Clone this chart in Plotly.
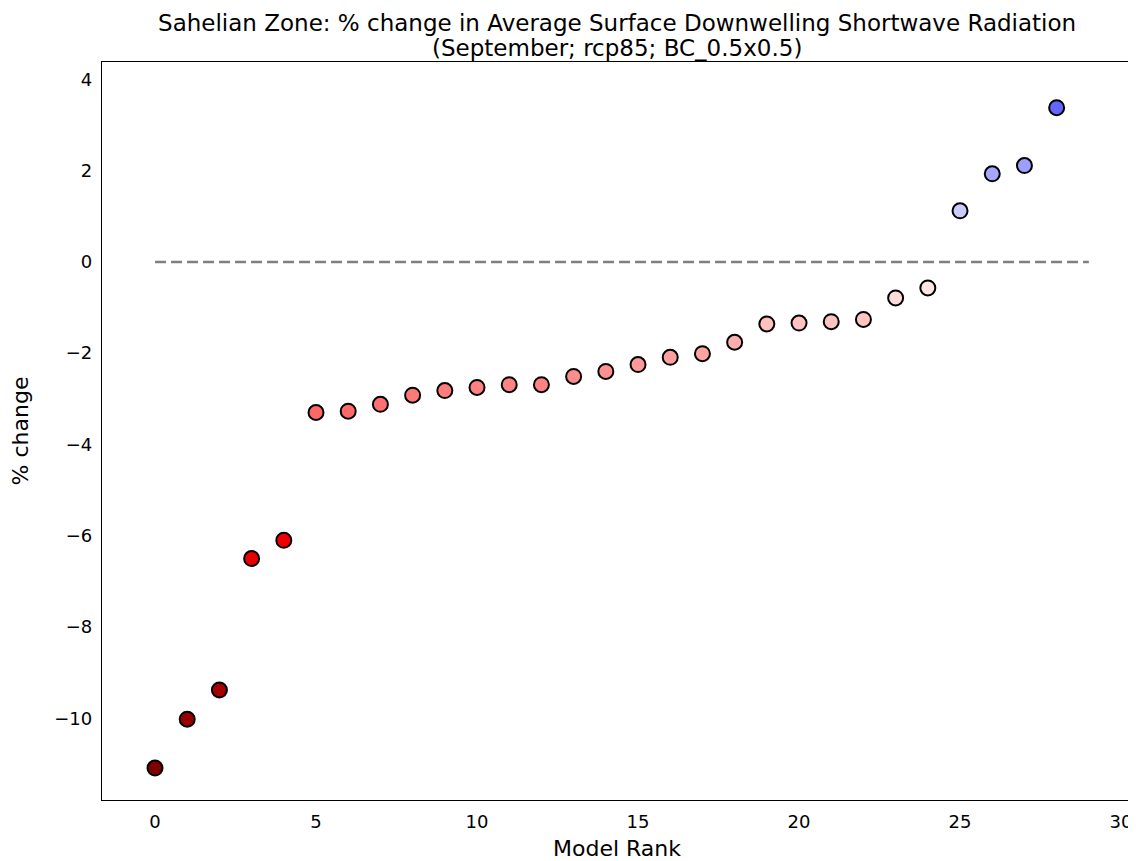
import plotly.graph_objects as go

# model ranks and % change values
ranks = list(range(29))
pct_change = [-11.09, -10.02, -9.38, -6.50, -6.10, -3.30, -3.27, -3.12, -2.92, -2.82,
              -2.75, -2.69, -2.69, -2.51, -2.40, -2.25, -2.09, -2.01, -1.76, -1.36,
              -1.34, -1.31, -1.26, -0.79, -0.57, 1.12, 1.93, 2.11, 3.38]

title_line1 = "Sahelian Zone: % change in Average Surface Downwelling Shortwave Radiation"
title_line2 = "(September; rcp85; BC_0.5x0.5)"

# seismic colormap reversed (red = negative, blue = positive)
seismic_r = [[0.0, "rgb(127,0,0)"], [0.25, "rgb(255,0,0)"], [0.5, "rgb(255,255,255)"],
             [0.75, "rgb(0,0,255)"], [1.0, "rgb(0,0,76)"]]
vmax = max(abs(v) for v in pct_change)

font = "DejaVu Sans, Liberation Sans, sans-serif"

fig = go.Figure()

# zero reference line
fig.add_trace(go.Scatter(
    x=[0, len(ranks)], y=[0, 0], mode="lines",
    line=dict(color="gray", width=2.5, dash="11px,5px"),
    hoverinfo="skip", showlegend=False,
))

fig.add_trace(go.Scatter(
    x=ranks, y=pct_change, mode="markers",
    marker=dict(size=15, color=pct_change, colorscale=seismic_r,
                cmin=-vmax, cmax=vmax, line=dict(color="black", width=2)),
    showlegend=False,
))

# page body has an 8px margin, so the figure is sized to fill the rest of the window
fig.update_layout(
    width=1128, height=853,
    paper_bgcolor="white", plot_bgcolor="white",
    margin=dict(l=94, r=4, t=54, b=61),
    font=dict(family=font, size=18, color="black"),
    title=dict(text=title_line1, x=0.540, xanchor="center",
               y=0.982, yanchor="middle", font=dict(size=23)),
)
# second title line placed separately to match the tighter line spacing
fig.add_annotation(
    text=title_line2, xref="paper", yref="paper", x=0.5, y=1.019,
    xanchor="center", yanchor="middle", showarrow=False, font=dict(size=23),
)
fig.update_xaxes(
    range=[-1.646, 30.34], tickvals=[0, 5, 10, 15, 20, 25, 30],
    showgrid=False, zeroline=False, showline=True, mirror=True, automargin=False,
    linecolor="black", linewidth=1.3, ticks="outside", ticklen=5,
    tickcolor="rgba(0,0,0,0)",
    title=dict(text="Model Rank", standoff=10),
)
fig.update_yaxes(
    range=[-11.79, 4.38], tickvals=[-10, -8, -6, -4, -2, 0, 2, 4],
    showgrid=False, zeroline=False, showline=True, mirror=True, automargin=False,
    linecolor="black", linewidth=1.3, ticks="outside", ticklen=5,
    tickcolor="rgba(0,0,0,0)",
    title=dict(text="% change", standoff=22),
)

fig.write_html("out.html")
